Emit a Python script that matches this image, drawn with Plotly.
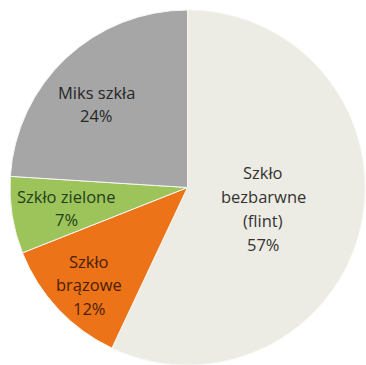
import plotly.graph_objects as go

# Glass composition shares (percent)
categories = ["Szkło bezbarwne (flint)", "Szkło brązowe", "Szkło zielone", "Miks szkła"]
shares = [57, 12, 7, 24]
colors = ["#EDECE4", "#EC7318", "#9DC35B", "#A6A6A6"]
text_colors = ["#333333", "#4A1E05", "#24401A", "#262626"]

# Label lines per slice (name broken over lines, then the percentage)
label_lines = [
    ["Szkło", "bezbarwne", "(flint)"],
    ["Szkło", "brązowe"],
    ["Szkło zielone"],
    ["Miks szkła"],
]
# Anchor (centre x, first-line y) in pixels and line spacing
label_pos = [(263, 173), (89, 261), (66, 196), (96, 92)]
line_gap = 23.8

W, H = 366, 365

fig = go.Figure(
    go.Pie(
        labels=categories,
        values=shares,
        sort=False,
        direction="clockwise",
        rotation=0,
        marker=dict(colors=colors, line=dict(color="#F6F6F2", width=1)),
        textinfo="none",
        hoverinfo="label+percent",
        domain=dict(x=[10 / W, 365 / W], y=[0, 1 - 10 / H]),
        showlegend=False,
    )
)

annotations = []
for lines, share, (cx, cy), tc in zip(label_lines, shares, label_pos, text_colors):
    for i, line in enumerate(lines + [f"{share}%"]):
        annotations.append(
            dict(
                x=cx / W,
                y=1 - (cy + i * line_gap) / H,
                xref="paper",
                yref="paper",
                text=line,
                showarrow=False,
                xanchor="center",
                yanchor="middle",
                font=dict(family="Open Sans", size=16.5, color=tc),
            )
        )

fig.update_layout(
    width=W,
    height=H,
    margin=dict(l=0, r=0, t=0, b=0),
    paper_bgcolor="white",
    plot_bgcolor="white",
    annotations=annotations,
)

fig.write_html("out.html")
